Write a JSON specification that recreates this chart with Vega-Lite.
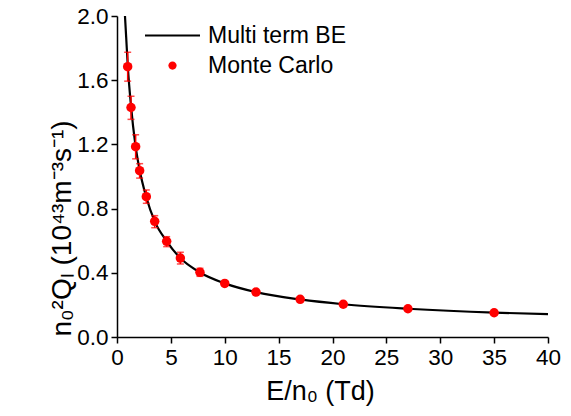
{
  "$schema": "https://vega.github.io/schema/vega-lite/v6.json",
  "width": 431,
  "height": 321,
  "autosize": {"type": "none"},
  "padding": {"left": 117, "top": 16, "right": 23, "bottom": 79},
  "background": "white",
  "config": {
    "view": {"stroke": null},
    "font": "Liberation Sans",
    "axis": {"grid": false, "domainColor": "black", "domainWidth": 1.5, "tickColor": "black", "tickWidth": 1.5, "labelColor": "black", "titleColor": "black", "labelFont": "Liberation Sans", "titleFont": "Liberation Sans", "titleFontWeight": "normal"}
  },
  "datasets": {
    "mc": [
      {"E": 0.99, "Q": 1.684, "lo": 1.594, "hi": 1.774, "series": "Monte Carlo"},
      {"E": 1.30, "Q": 1.43, "lo": 1.356, "hi": 1.50, "series": "Monte Carlo"},
      {"E": 1.73, "Q": 1.186, "lo": 1.11, "hi": 1.26, "series": "Monte Carlo"},
      {"E": 2.1, "Q": 1.036, "lo": 0.99, "hi": 1.08, "series": "Monte Carlo"},
      {"E": 2.72, "Q": 0.874, "lo": 0.833, "hi": 0.916, "series": "Monte Carlo"},
      {"E": 3.5, "Q": 0.721, "lo": 0.681, "hi": 0.756, "series": "Monte Carlo"},
      {"E": 4.61, "Q": 0.596, "lo": 0.563, "hi": 0.625, "series": "Monte Carlo"},
      {"E": 5.88, "Q": 0.492, "lo": 0.455, "hi": 0.528, "series": "Monte Carlo"},
      {"E": 7.7, "Q": 0.403, "lo": 0.378, "hi": 0.428, "series": "Monte Carlo"},
      {"E": 10.0, "Q": 0.334, "lo": 0.322, "hi": 0.346, "series": "Monte Carlo"},
      {"E": 12.9, "Q": 0.28, "lo": 0.272, "hi": 0.288, "series": "Monte Carlo"},
      {"E": 17.0, "Q": 0.235, "lo": 0.229, "hi": 0.241, "series": "Monte Carlo"},
      {"E": 21.0, "Q": 0.204, "lo": 0.199, "hi": 0.209, "series": "Monte Carlo"},
      {"E": 27.0, "Q": 0.176, "lo": 0.172, "hi": 0.180, "series": "Monte Carlo"},
      {"E": 35.0, "Q": 0.151, "lo": 0.147, "hi": 0.155, "series": "Monte Carlo"}
    ],
    "be": [
      {"E": 0.74, "Q": 2.0, "series": "Multi term BE"},
      {"E": 0.85, "Q": 1.87, "series": "Multi term BE"},
      {"E": 1.0, "Q": 1.69, "series": "Multi term BE"},
      {"E": 1.3, "Q": 1.44, "series": "Multi term BE"},
      {"E": 1.7, "Q": 1.2, "series": "Multi term BE"},
      {"E": 2.1, "Q": 1.04, "series": "Multi term BE"},
      {"E": 2.7, "Q": 0.875, "series": "Multi term BE"},
      {"E": 3.5, "Q": 0.72, "series": "Multi term BE"},
      {"E": 4.6, "Q": 0.598, "series": "Multi term BE"},
      {"E": 5.9, "Q": 0.49, "series": "Multi term BE"},
      {"E": 7.7, "Q": 0.402, "series": "Multi term BE"},
      {"E": 10.0, "Q": 0.334, "series": "Multi term BE"},
      {"E": 13.0, "Q": 0.278, "series": "Multi term BE"},
      {"E": 17.0, "Q": 0.234, "series": "Multi term BE"},
      {"E": 21.0, "Q": 0.204, "series": "Multi term BE"},
      {"E": 27.0, "Q": 0.176, "series": "Multi term BE"},
      {"E": 35.0, "Q": 0.152, "series": "Multi term BE"},
      {"E": 40.0, "Q": 0.143, "series": "Multi term BE"}
    ]
  },
  "layer": [
    {
      "data": {"name": "be"},
      "mark": {"type": "line", "strokeWidth": 2.2, "interpolate": "monotone", "clip": true},
      "encoding": {
        "x": {"field": "E", "type": "quantitative", "scale": {"domain": [0, 40], "nice": false},
          "axis": {"values": [0, 2.5, 5, 7.5, 10, 12.5, 15, 17.5, 20, 22.5, 25, 27.5, 30, 32.5, 35, 37.5, 40],
            "labelExpr": "datum.value % 5 === 0 ? datum.label : ''",
            "tickSize": {"expr": "datum.value % 5 === 0 ? 6 : 3"},
            "labelFontSize": 22.5, "labelPadding": 3, "labelFlush": false, "labelOverlap": false,
            "title": "E/n₀ (Td)", "titleFontSize": 27, "titleX": 203, "titleY": 62, "titleAlign": "center", "titleBaseline": "alphabetic", "titleAnchor": null}},
        "y": {"field": "Q", "type": "quantitative", "scale": {"domain": [0, 2], "nice": false},
          "axis": {"values": [0, 0.2, 0.4, 0.6, 0.8, 1.0, 1.2, 1.4, 1.6, 1.8, 2.0],
            "format": ".1f",
            "labelExpr": "round(datum.value * 10) % 4 === 0 ? datum.label : ''",
            "tickSize": {"expr": "round(datum.value * 10) % 4 === 0 ? 6 : 3"},
            "labelFontSize": 22.5, "labelPadding": 3, "labelFlush": false, "labelOverlap": false,
            "title": "n₀²Qₗ (10⁴³m⁻³s⁻¹)", "titleFontSize": 28, "titleX": -47, "titleY": 212, "titleAlign": "center", "titleBaseline": "alphabetic", "titleAngle": -90, "titleAnchor": null}},
        "color": {"field": "series", "type": "nominal",
          "scale": {"domain": ["Multi term BE", "Monte Carlo"], "range": ["black", "#ff0000"]},
          "legend": {"title": null, "orient": "none", "legendX": 28, "legendY": 8, "padding": 0,
            "labelFontSize": 23, "labelFont": "Liberation Sans", "labelColor": "black", "labelOffset": 8, "rowPadding": 6,
            "symbolSize": 3025, "symbolStrokeWidth": 2.2,
            "encode": {
              "symbols": {"update": {
                "x": {"value": 27.5},
                "size": {"value": 3025},
                "shape": {"signal": "datum.value === 'Monte Carlo' ? 'M-0.15,0A0.15,0.15,0,1,1,0.15,0A0.15,0.15,0,1,1,-0.15,0Z' : 'M-1,0H1'"},
                "stroke": {"signal": "datum.value === 'Monte Carlo' ? 'transparent' : 'black'"},
                "strokeWidth": {"signal": "datum.value === 'Monte Carlo' ? 0 : 2.2"},
                "fill": {"signal": "datum.value === 'Monte Carlo' ? '#ff0000' : 'transparent'"},
                "opacity": {"value": 1}
              }},
              "labels": {"update": {"x": {"value": 63}}}
            }}}
      }
    },
    {
      "data": {"name": "mc"},
      "mark": {"type": "rule", "color": "#ff0000", "strokeWidth": 1.5},
      "encoding": {
        "x": {"field": "E", "type": "quantitative"},
        "y": {"field": "lo", "type": "quantitative"},
        "y2": {"field": "hi"}
      }
    },
    {
      "data": {"name": "mc"},
      "mark": {"type": "tick", "orient": "horizontal", "color": "#ff0000", "size": 7, "thickness": 1.5},
      "encoding": {
        "x": {"field": "E", "type": "quantitative"},
        "y": {"field": "lo", "type": "quantitative"}
      }
    },
    {
      "data": {"name": "mc"},
      "mark": {"type": "tick", "orient": "horizontal", "color": "#ff0000", "size": 7, "thickness": 1.5},
      "encoding": {
        "x": {"field": "E", "type": "quantitative"},
        "y": {"field": "hi", "type": "quantitative"}
      }
    },
    {
      "data": {"name": "mc"},
      "mark": {"type": "point", "filled": true, "opacity": 1, "size": 90, "shape": "circle", "strokeWidth": 0},
      "encoding": {
        "x": {"field": "E", "type": "quantitative"},
        "y": {"field": "Q", "type": "quantitative"},
        "color": {"field": "series", "type": "nominal"}
      }
    }
  ]
}
